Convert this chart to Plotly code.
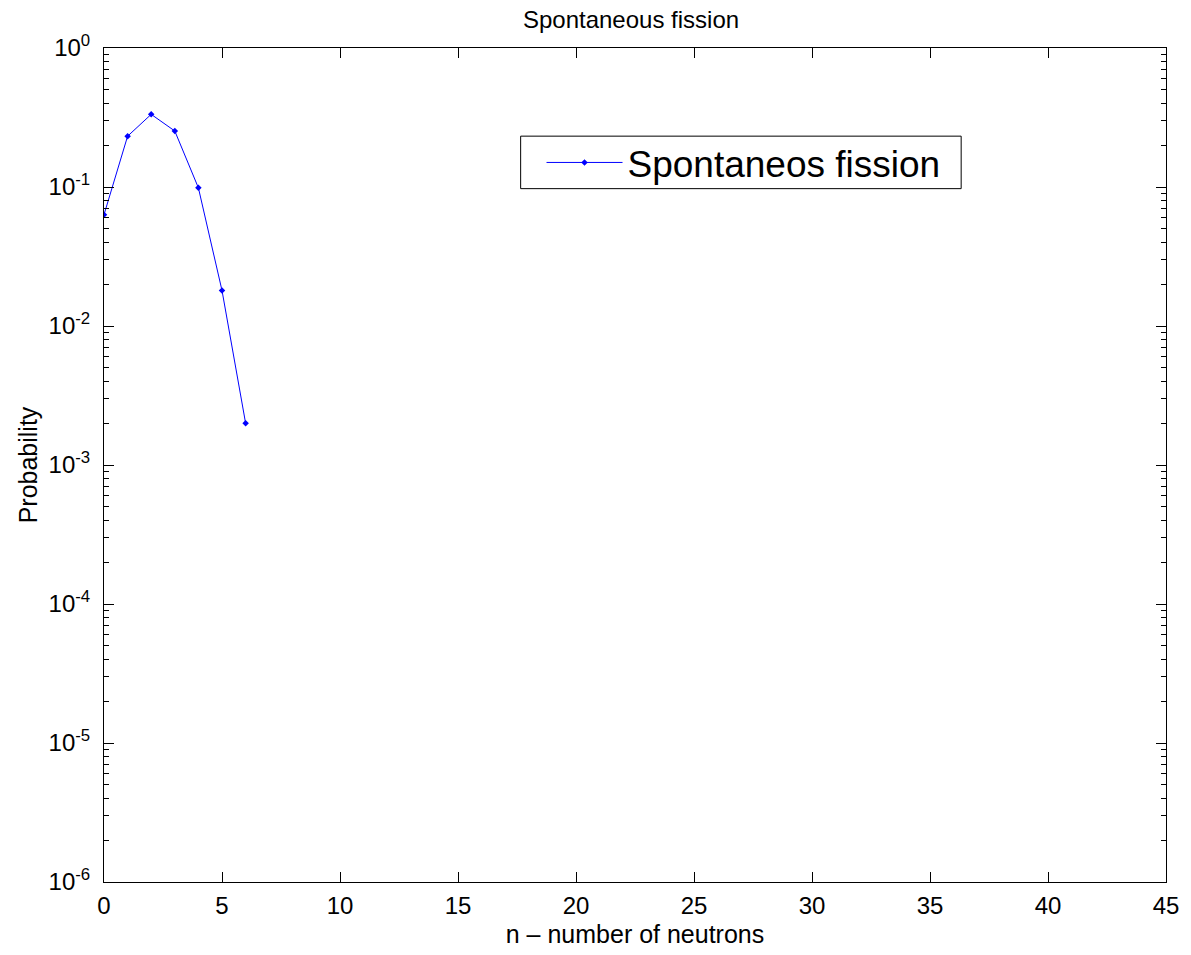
import plotly.graph_objects as go

n_values = [0, 1, 2, 3, 4, 5, 6]
probability = [0.0632, 0.2320, 0.3333, 0.2528, 0.0986, 0.0180, 0.0020]
series_name = "Spontaneos fission"
x_ticks = [0, 5, 10, 15, 20, 25, 30, 35, 40, 45]
y_exponents = [-6, -5, -4, -3, -2, -1, 0]

y_tickvals = [10.0 ** e for e in y_exponents]
y_ticktext = ["10<sup>%d</sup>" % e for e in y_exponents]
y_minor = [m * 10.0 ** e for e in y_exponents[:-1] for m in range(2, 10)]

FONT = "Liberation Sans, Arial, Helvetica, sans-serif"

# plot area in pixels
L, R, T, B = 104, 1172, 48, 890
W, H = R - L, B - T


def px(x):
    return (x - L) / W


def py(y):
    return (B - y) / H


fig = go.Figure()
fig.add_trace(go.Scatter(
    x=n_values, y=probability, mode="lines+markers", name=series_name,
    line=dict(color="#0000ff", width=1),
    marker=dict(color="#0000ff", size=5, symbol="diamond"),
))

# legend box outline
fig.add_shape(type="rect", xref="paper", yref="paper",
              x0=px(523), x1=px(966), y0=py(190), y1=py(137),
              line=dict(color="black", width=1), fillcolor="rgba(0,0,0,0)")

fig.update_layout(
    width=1191, height=955,
    paper_bgcolor="white", plot_bgcolor="white",
    margin=dict(l=L, r=1191 - R, t=T, b=955 - B),
    font=dict(family=FONT, color="black"),
    title=dict(text="Spontaneous fission", x=px(634), xanchor="center", xref="paper",
               y=1 - 20 / 955, yanchor="middle", font=dict(size=24, family=FONT)),
    showlegend=True,
    legend=dict(x=px(544), y=py(164), xanchor="left", yanchor="middle",
                bgcolor="rgba(0,0,0,0)", borderwidth=0,
                font=dict(size=37, family=FONT), itemwidth=76),
    xaxis=dict(range=[0, 45], tickvals=x_ticks, ticks="inside", ticklen=10,
               tickcolor="black", showline=True, linecolor="black", linewidth=1,
               mirror="ticks", showgrid=False, zeroline=False,
               tickfont=dict(size=24), ticklabelstandoff=2,
               title=dict(text="n – number of neutrons",
                          font=dict(size=25), standoff=7)),
    yaxis=dict(type="log", range=[-6, 0], tickvals=y_tickvals, ticktext=y_ticktext,
               ticks="inside", ticklen=10, tickcolor="black", showline=True,
               linecolor="black", linewidth=1, mirror="ticks", showgrid=False,
               zeroline=False, tickfont=dict(size=24), ticklabelstandoff=8,
               minor=dict(tickmode="array", tickvals=y_minor, ticks="inside",
                          ticklen=5, tickcolor="black", showgrid=False),
               title=dict(text="Probability", font=dict(size=25), standoff=3)),
)

fig.write_html("out.html")
